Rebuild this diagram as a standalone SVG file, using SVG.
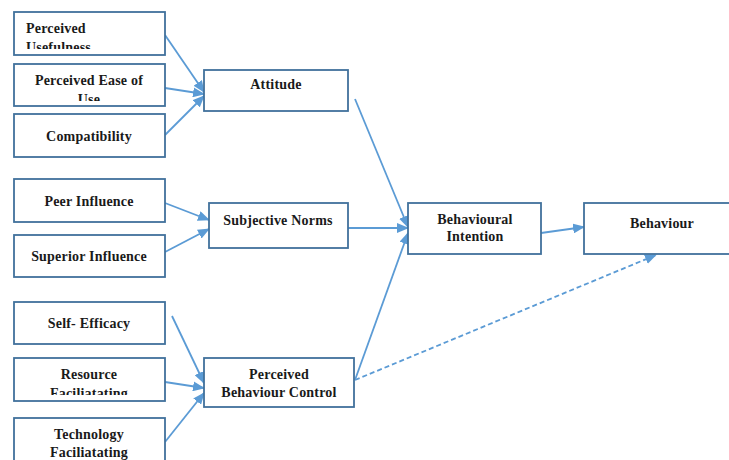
<svg xmlns="http://www.w3.org/2000/svg" width="729" height="460" viewBox="0 0 729 460">
  <style>
    .box { fill: #ffffff; stroke: #41719c; stroke-width: 1.8; }
    .lbl { font-family: "Liberation Serif", "Times New Roman", serif; font-weight: bold; font-size: 14px; letter-spacing: 0.2px; fill: #1a1a1a; text-anchor: middle; }
    .start { text-anchor: start; }
    .edge { stroke: #5b9bd5; stroke-width: 1.8; fill: none; marker-end: url(#head); }
    .dash { stroke-dasharray: 5 3; }
  </style>
  <defs>
    <marker id="head" markerUnits="userSpaceOnUse" markerWidth="12" markerHeight="10" viewBox="0 0 12 10" refX="11" refY="5" orient="auto">
      <path d="M0,0 L12,5 L0,10 Z" fill="#5b9bd5"/>
    </marker>
    <clipPath id="clipPU"><rect x="14" y="12" width="151" height="37"/></clipPath>
    <clipPath id="clipPEU"><rect x="14" y="64" width="151" height="37"/></clipPath>
    <clipPath id="clipRF"><rect x="14" y="358" width="151" height="37"/></clipPath>
  </defs>
  <rect width="729" height="460" fill="#ffffff"/>

  <g id="connectors">
    <line class="edge" x1="165" y1="35" x2="204" y2="92"/>
    <line class="edge" x1="165" y1="88" x2="204" y2="94"/>
    <line class="edge" x1="165" y1="135" x2="204" y2="96"/>
    <line class="edge" x1="165" y1="203" x2="209" y2="220"/>
    <line class="edge" x1="165" y1="252" x2="209" y2="229"/>
    <line class="edge" x1="172" y1="316" x2="204" y2="383"/>
    <line class="edge" x1="165" y1="382" x2="204" y2="388"/>
    <line class="edge" x1="165" y1="442" x2="204" y2="393"/>
    <line class="edge" x1="355" y1="99" x2="408" y2="227"/>
    <line class="edge" x1="348" y1="228" x2="408" y2="228"/>
    <line class="edge" x1="355" y1="380" x2="408" y2="233"/>
    <line class="edge" x1="541" y1="233" x2="584" y2="227"/>
    <line class="edge dash" x1="355" y1="380" x2="656" y2="255"/>
  </g>

  <g id="perceived-usefulness">
    <rect class="box" x="14" y="12" width="151" height="43"/>
    <g clip-path="url(#clipPU)">
      <text class="lbl start" x="26" y="33">Perceived</text>
      <text class="lbl start" x="26" y="52">Usefulness</text>
    </g>
  </g>
  <g id="perceived-ease-of-use">
    <rect class="box" x="14" y="64" width="151" height="42"/>
    <g clip-path="url(#clipPEU)">
      <text class="lbl" x="89" y="85">Perceived Ease of</text>
      <text class="lbl" x="89" y="104">Use</text>
    </g>
  </g>
  <g id="compatibility">
    <rect class="box" x="14" y="114" width="151" height="43"/>
    <text class="lbl" x="89" y="141">Compatibility</text>
  </g>
  <g id="attitude">
    <rect class="box" x="204" y="70" width="144" height="41"/>
    <text class="lbl" x="276" y="89">Attitude</text>
  </g>

  <g id="peer-influence">
    <rect class="box" x="14" y="179" width="151" height="43"/>
    <text class="lbl" x="89" y="206">Peer Influence</text>
  </g>
  <g id="superior-influence">
    <rect class="box" x="14" y="235" width="151" height="42"/>
    <text class="lbl" x="89" y="261">Superior Influence</text>
  </g>
  <g id="subjective-norms">
    <rect class="box" x="209" y="203" width="139" height="45"/>
    <text class="lbl" x="278" y="225">Subjective Norms</text>
  </g>

  <g id="self-efficacy">
    <rect class="box" x="14" y="302" width="151" height="42"/>
    <text class="lbl" x="89" y="328">Self- Efficacy</text>
  </g>
  <g id="resource-faciliatating">
    <rect class="box" x="14" y="358" width="151" height="43"/>
    <g clip-path="url(#clipRF)">
      <text class="lbl" x="89" y="379">Resource</text>
      <text class="lbl" x="89" y="398">Faciliatating</text>
    </g>
  </g>
  <g id="technology-faciliatating">
    <rect class="box" x="14" y="418" width="151" height="50"/>
    <text class="lbl" x="89" y="439">Technology</text>
    <text class="lbl" x="89" y="457">Faciliatating</text>
  </g>
  <g id="perceived-behaviour-control">
    <rect class="box" x="204" y="358" width="150" height="49"/>
    <text class="lbl" x="279" y="379">Perceived</text>
    <text class="lbl" x="279" y="397">Behaviour Control</text>
  </g>

  <g id="behavioural-intention">
    <rect class="box" x="408" y="203" width="133" height="51"/>
    <text class="lbl" x="475" y="224">Behavioural</text>
    <text class="lbl" x="475" y="241">Intention</text>
  </g>
  <g id="behaviour">
    <rect class="box" x="584" y="203" width="150" height="51"/>
    <text class="lbl" x="662" y="228">Behaviour</text>
  </g>
</svg>
